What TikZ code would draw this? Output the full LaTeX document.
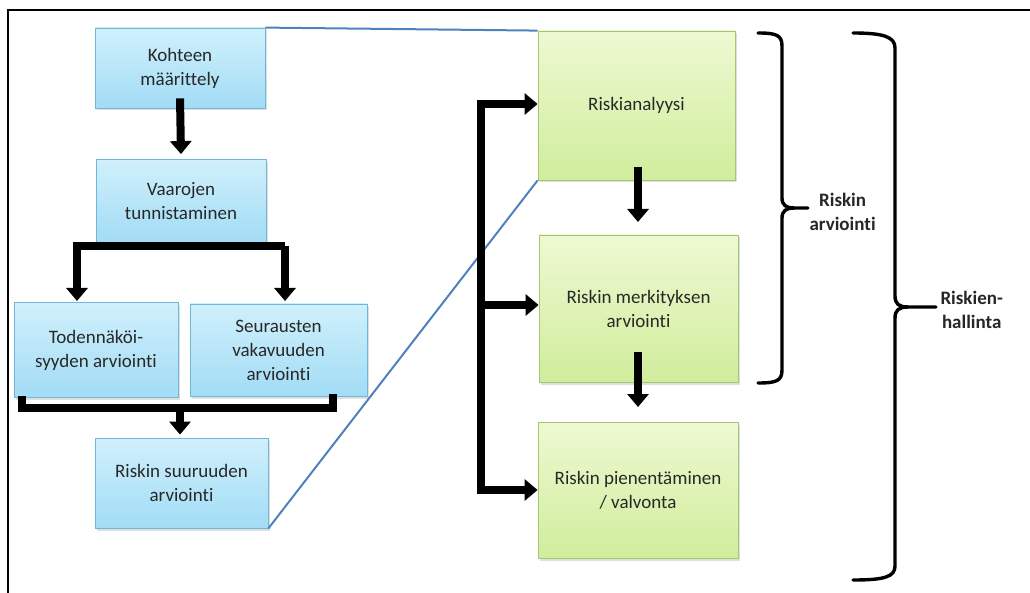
\documentclass[tikz,border=0pt]{standalone}
\usepackage{fontspec}
\setmainfont{Carlito}[Ligatures=NoCommon]
\usetikzlibrary{arrows.meta,shadows,calc}
\definecolor{bluetop}{RGB}{208,240,252}
\definecolor{bluebot}{RGB}{162,220,245}
\definecolor{blueedge}{RGB}{112,182,216}
\definecolor{greentop}{RGB}{238,249,210}
\definecolor{greenbot}{RGB}{208,237,156}
\definecolor{greenedge}{RGB}{165,198,115}
\definecolor{textgray}{RGB}{40,40,40}
\definecolor{zoomline}{RGB}{79,129,189}
\begin{document}
\begin{tikzpicture}[x=1pt,y=-1pt,
  basebox/.style={draw, rectangle, align=center, inner sep=2pt,
    font=\fontsize{19}{24}\selectfont, text=textgray,
    drop shadow={shadow xshift=2pt, shadow yshift=-2.5pt, opacity=0.25}},
  bluebox/.style={basebox, draw=blueedge, line width=0.8pt, top color=bluetop, bottom color=bluebot},
  greenbox/.style={basebox, draw=greenedge, line width=0.8pt, top color=greentop, bottom color=greenbot},
  fat/.style={line width=8pt, black},
  fatarrow/.style={fat, -{Triangle[width=21pt,length=13pt]}},
  fatboth/.style={fat, {Triangle[width=21pt,length=13pt]}-{Triangle[width=21pt,length=13pt]}},
  brace/.style={line width=3.4pt, black, line cap=round},
  zoom/.style={draw=zoomline, line width=2pt},
  label/.style={align=center, font=\fontsize{19}{24}\selectfont\bfseries, text=black!85}
]
\useasboundingbox (0,0) rectangle (1030,593);
% frame
\draw[line width=1.6pt] (8,593) -- (8,10) -- (1030,10);

% blue boxes
\node[bluebox, minimum width=170pt, minimum height=80pt] (k) at (180,68) {Kohteen\\määrittely};
\node[bluebox, minimum width=170pt, minimum height=83pt] (v) at (181,201) {Vaarojen\\tunnistaminen};
\node[bluebox, minimum width=164pt, minimum height=95pt] (t) at (96,350) {Todennäköi-\\syyden arviointi};
\node[bluebox, minimum width=177pt, minimum height=92pt] (s) at (278.5,350) {Seurausten\\vakavuuden\\arviointi};
\node[bluebox, minimum width=173pt, minimum height=90pt] (r) at (181.5,483) {Riskin suuruuden\\arviointi};

% green boxes
\node[greenbox, minimum width=197pt, minimum height=149pt] (g1) at (636.5,105.5) {Riskianalyysi};
\node[greenbox, minimum width=199pt, minimum height=147pt] (g2) at (638.5,308.5) {Riskin merkityksen\\arviointi};
\node[greenbox, minimum width=200pt, minimum height=136pt] (g3) at (638,490) {Riskin pienentäminen\\/ valvonta};

% zoom lines
\draw[zoom] (k.north east) -- (g1.north west);
\draw[zoom] (r.south east) -- (g1.south west);

% left flow arrows
\coordinate (kOut) at ($(k.south)+(0,-10)$);
\coordinate (vIn) at ($(v.north)+(0,-5)$);
\draw[fatarrow] (kOut) -- (vIn);

\coordinate (sL) at (77,246);
\coordinate (sR) at (285,246);
\coordinate (tIn) at (77,301);
\coordinate (sIn) at (285,301);
\draw[fatarrow] (sR) -- (sL) -- (tIn);
\draw[fatarrow] (sR) -- (sIn);

\coordinate (mL) at (22,396);
\coordinate (mLb) at (22,408);
\coordinate (mRb) at (333,408);
\coordinate (mR) at (333,394);
\draw[fat] (mL) -- (mLb) -- (mRb) -- (mR);
\coordinate (mC) at (180,408);
\coordinate (rIn) at ($(r.north)+(0,-3)$);
\draw[fatarrow] (mC) -- (rIn -| mC);

% right flow
\coordinate (f1) at (481,104);
\coordinate (f2) at (481,305);
\coordinate (f3) at (481,490);
\draw[fatboth] (g1.west |- f1) -- (f1) -- (f3) -- (g3.west |- f3);
\draw[fatarrow] (f2) -- (g2.west |- f2);

\coordinate (g1Out) at (638,167);
\coordinate (g2In) at (638,222);
\draw[fatarrow] (g1Out) -- (g2In);
\coordinate (g2Out) at (638,352);
\coordinate (g3In) at (638,407);
\draw[fatarrow] (g2Out) -- (g3In);

% small brace
\coordinate (b1tip) at (808,208);
\draw[brace] (758,33) .. controls (776,33) and (782,35) .. (782,46) -- (782,198)
  .. controls (782,205) and (786,208) .. (794,208) -- (b1tip);
\draw[brace] (794,208) .. controls (786,208) and (782,211) .. (782,218) -- (782,370)
  .. controls (782,381) and (776,383) .. (758,383);
\node[label, anchor=west] (l1) at (806,212) {Riskin\\arviointi};

% large brace
\coordinate (b2tip) at (936,307);
\draw[brace] (853,33) .. controls (884,33) and (895,37) .. (895,48) -- (895,296)
  .. controls (895,304) and (899,307) .. (908,307) -- (b2tip);
\draw[brace] (908,307) .. controls (899,307) and (895,310) .. (895,318) -- (895,566)
  .. controls (895,577) and (884,580) .. (853,580);
\node[label, anchor=west] (l2) at (937,310) {Riskien-\\hallinta};
\end{tikzpicture}
\end{document}
